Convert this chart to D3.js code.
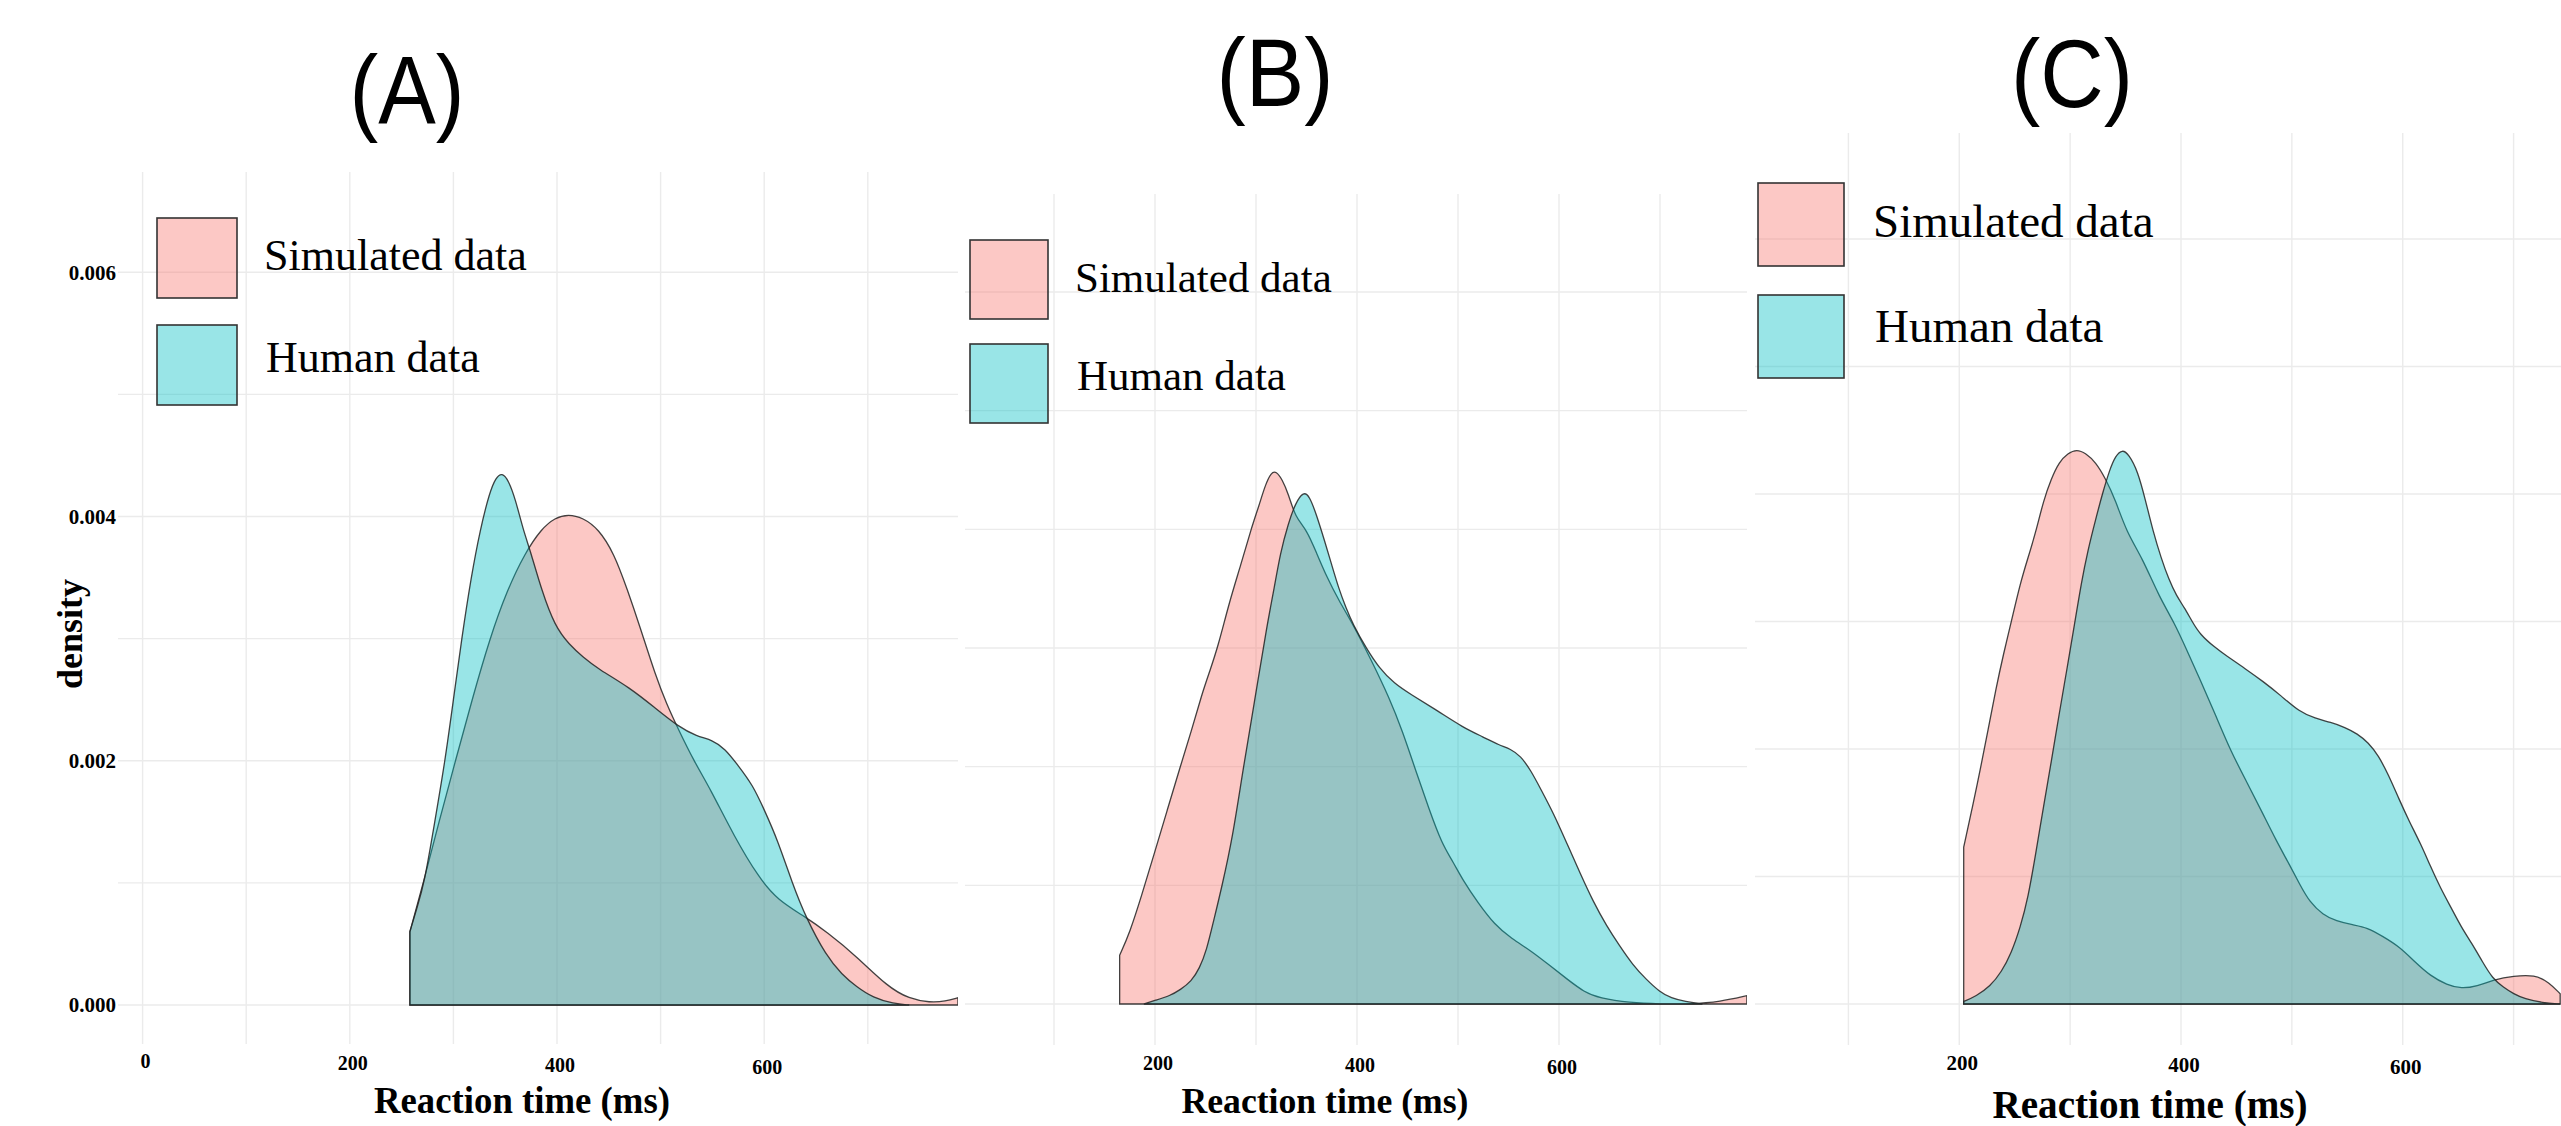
<!DOCTYPE html>
<html>
<head>
<meta charset="utf-8">
<script src="https://cdn.jsdelivr.net/npm/d3@7"></script>
<style>
  body { margin: 0; background: #fff; }
  svg { display: block; }
</style>
</head>
<body>
<div id="wrap"></div>
<script>
var W = 2561, H = 1126;

// data: [reaction time (ms), density]
var panelLabels = ["(A)", "(B)", "(C)"];
var seriesNames = ["Simulated data", "Human data"];
var rtTicksA = [0, 200, 400, 600];
var rtTicksBC = [200, 400, 600];
var densityTicks = [0, 0.002, 0.004, 0.006];

var simA = [[258,0.0006],[271,0.0010],[286,0.0015],[302,0.0020],[318,0.0025],[335,0.0030],[352,0.0034],[369,0.0037],[385,0.0039],[398,0.00399],[411,0.00402],[425,0.00399],[440,0.0039],[455,0.0037],[468,0.0034],[480,0.0031],[495,0.0027],[506,0.00246],[517,0.00226],[532,0.002],[548,0.00177],[571,0.00138],[595,0.00104],[613,0.00086],[640,0.00072],[660,0.0006],[689,0.0004],[719,0.00015],[740,0.00005],[760,0.00002],[775,0.00003],[787,0.00006]];
var humanA = [[258,0.0006],[265,0.0008],[272,0.0010],[282,0.0015],[292,0.0020],[300,0.0025],[308,0.0030],[317,0.0035],[326,0.0039],[335,0.0042],[341,0.00432],[347,0.00436],[353,0.0043],[360,0.00414],[367,0.0039],[375,0.0037],[385,0.0034],[398,0.0031],[412,0.00295],[425,0.00285],[440,0.00275],[470,0.0026],[495,0.00243],[517,0.00228],[535,0.0022],[550,0.00217],[562,0.0021],[575,0.00196],[589,0.0018],[600,0.0016],[613,0.00135],[627,0.001],[640,0.00072],[660,0.0004],[675,0.00025],[689,0.00015],[705,0.00006],[725,0.00001],[740,0]];

var simB = [[165,0.00041],[175,0.0006],[187,0.00092],[199,0.00126],[212,0.00163],[225,0.002],[236,0.0023],[246,0.0026],[254,0.0028],[262,0.0030],[274,0.0034],[285,0.0037],[295,0.0040],[303,0.0042],[309,0.00437],[315,0.00448],[320,0.00449],[326,0.00442],[332,0.0043],[339,0.0041],[350,0.0040],[360,0.0038],[370,0.0036],[382,0.0034],[396,0.0032],[414,0.0029],[432,0.00258],[445,0.0023],[458,0.00197],[471,0.00165],[484,0.00135],[495,0.0012],[505,0.00104],[520,0.00085],[536,0.00067],[553,0.00055],[572,0.00045],[590,0.00033],[608,0.00021],[625,0.0001],[640,0.00005],[670,0.00001],[700,0],[730,0],[760,0.00002],[786,0.00007]];
var humanB = [[189,0],[200,0.00003],[215,0.00007],[225,0.00012],[236,0.00019],[244,0.0003],[251,0.00045],[258,0.0007],[266,0.00098],[277,0.00141],[287,0.00197],[298,0.00252],[311,0.0032],[318,0.0035],[324,0.0038],[332,0.00405],[339,0.00422],[347,0.00432],[353,0.00428],[360,0.00412],[368,0.0039],[375,0.0037],[382,0.0035],[389,0.00334],[396,0.0032],[409,0.003],[422,0.00283],[437,0.0027],[453,0.00261],[480,0.00247],[505,0.00233],[525,0.00225],[541,0.00218],[552,0.00215],[562,0.00209],[572,0.00197],[582,0.00181],[595,0.0016],[608,0.00135],[621,0.0011],[634,0.00086],[647,0.00066],[660,0.00049],[673,0.00033],[686,0.00021],[700,0.0001],[711,0.00005],[725,0.00002],[742,0]];

var simC = [[204,0.00123],[212,0.00155],[219,0.00184],[226,0.00215],[233,0.00247],[240,0.00275],[247,0.003],[255,0.0033],[262,0.0035],[269,0.0037],[276,0.00395],[283,0.00412],[290,0.00425],[298,0.00432],[306,0.00435],[314,0.00432],[323,0.00425],[332,0.00412],[341,0.00395],[351,0.0037],[365,0.0035],[380,0.0032],[394,0.00299],[405,0.00278],[417,0.00255],[431,0.00227],[445,0.00198],[460,0.00173],[474,0.00149],[486,0.00128],[498,0.00109],[507,0.00094],[516,0.0008],[528,0.0007],[540,0.00065],[555,0.00062],[568,0.0006],[582,0.00053],[597,0.00045],[611,0.00033],[625,0.00022],[640,0.00015],[653,0.00012],[667,0.00014],[682,0.00019],[700,0.00022],[719,0.00023],[732,0.00017],[742,0.00008]];
var humanC = [[204,0.00002],[215,0.00006],[228,0.00014],[238,0.00025],[247,0.0004],[255,0.0006],[262,0.00083],[269,0.00118],[276,0.00155],[283,0.0019],[290,0.00227],[297,0.00262],[304,0.00298],[310,0.0033],[316,0.00356],[323,0.0038],[329,0.004],[336,0.0042],[341,0.0043],[347,0.00435],[353,0.00431],[361,0.00418],[368,0.00395],[375,0.0037],[382,0.0035],[389,0.00333],[396,0.0032],[403,0.00311],[410,0.003],[417,0.0029],[430,0.0028],[441,0.00273],[458,0.00263],[474,0.00253],[490,0.00242],[507,0.00229],[521,0.00224],[535,0.00221],[548,0.00217],[559,0.00212],[569,0.00205],[578,0.00195],[587,0.0018],[597,0.0016],[606,0.00143],[616,0.00126],[625,0.00108],[634,0.00091],[644,0.00075],[653,0.0006],[662,0.00048],[672,0.00033],[681,0.0002],[691,0.00013],[700,0.00008],[710,0.00004],[726,0.00001],[742,0]];

var fills = ["#F8766D", "#00BFC4"];
var serif = "'Liberation Serif', 'Times New Roman', serif";
var sans = "'Liberation Sans', Arial, sans-serif";

// layout of the three panels (pixel boxes of the composite)
var panels = [
  { label: panelLabels[0], sim: simA, human: humanA, xTicks: rtTicksA, yTicks: densityTicks,
    left: 104, right: 958, top: 172, bottom: 1044,
    xDom: [0, 700], xRange: [142.6, 867.8], yRange: [1005, 272.3],
    title: [407, 123, 115], xTitle: [522, 1113, 37, 296], tickFont: 20,
    legend: { box: [157, 218, 80, 80], gap: 107, text: [264, 270], font: 44, step: 102 } },
  { label: panelLabels[1], sim: simB, human: humanB, xTicks: rtTicksBC, yTicks: [],
    left: 965, right: 1747, top: 194, bottom: 1045,
    xDom: [100, 700], xRange: [1054, 1660], yRange: [1004, 292],
    title: [1275, 106, 117], xTitle: [1325, 1113, 36, 287], tickFont: 20,
    legend: { box: [970, 240, 78, 79], gap: 104, text: [1075, 292], font: 43, step: 98 } },
  { label: panelLabels[2], sim: simC, human: humanC, xTicks: rtTicksBC, yTicks: [],
    left: 1755, right: 2561, top: 133, bottom: 1045,
    xDom: [100, 700], xRange: [1848.4, 2513.6], yRange: [1004, 239],
    title: [2072, 107, 122], xTitle: [2150, 1118, 39, 315], tickFont: 21,
    legend: { box: [1758, 183, 86, 83], gap: 112, text: [1873, 237], font: 47, step: 105 } }
];

var svg = d3.select("#wrap").append("svg").attr("width", W).attr("height", H);
svg.append("rect").attr("width", W).attr("height", H).attr("fill", "#fff");

panels.forEach(function(p, pi) {
  var x = d3.scaleLinear().domain(p.xDom).range(p.xRange);
  var y = d3.scaleLinear().domain([0, 0.006]).range(p.yRange);
  var g = svg.append("g");

  g.append("clipPath").attr("id", "clip" + pi)
    .append("rect").attr("x", p.left).attr("y", p.top)
    .attr("width", p.right - p.left).attr("height", p.bottom - p.top);

  // grid
  var xs = d3.range(0, 801, 100).filter(function(v) { var px = x(v); return px >= p.left && px <= p.right; });
  var ys = d3.range(0, 8).map(function(k) { return k * 0.001; })
    .filter(function(v) { var py = y(v); return py >= p.top && py <= p.bottom; });
  g.selectAll(".vg").data(xs).enter().append("line")
    .attr("x1", function(d) { return x(d); }).attr("x2", function(d) { return x(d); })
    .attr("y1", p.top).attr("y2", p.bottom)
    .attr("stroke", "#ebebeb").attr("stroke-width", 1.4);
  g.selectAll(".hg").data(ys).enter().append("line")
    .attr("x1", pi === 0 ? 118 : p.left).attr("x2", p.right)
    .attr("y1", function(d) { return y(d); }).attr("y2", function(d) { return y(d); })
    .attr("stroke", "#ebebeb").attr("stroke-width", 1.4);

  // densities
  var area = d3.area()
    .x(function(d) { return x(d[0]); })
    .y0(y(0))
    .y1(function(d) { return y(d[1]); })
    .curve(d3.curveBasis);
  var plot = g.append("g").attr("clip-path", "url(#clip" + pi + ")");
  [p.sim, p.human].forEach(function(s, si) {
    plot.append("path").datum(s)
      .attr("d", area)
      .attr("fill", fills[si]).attr("fill-opacity", 0.4)
      .attr("stroke", "#222").attr("stroke-opacity", 0.85).attr("stroke-width", 1.3);
  });

  // tick labels
  g.selectAll(".xt").data(p.xTicks).enter().append("text")
    .attr("x", function(d) { return x(d) + 3; })
    .attr("y", function(d) { return 1068 + d / 100; })
    .attr("text-anchor", "middle")
    .attr("font-family", serif).attr("font-weight", "bold").attr("font-size", p.tickFont)
    .text(function(d) { return d; });
  g.selectAll(".yt").data(p.yTicks).enter().append("text")
    .attr("x", 116).attr("y", function(d) { return y(d); })
    .attr("dy", "0.35em")
    .attr("text-anchor", "end")
    .attr("font-family", serif).attr("font-weight", "bold").attr("font-size", 21)
    .text(function(d) { return d3.format(".3f")(d); });

  // axis titles
  g.append("text")
    .attr("x", p.xTitle[0]).attr("y", p.xTitle[1])
    .attr("text-anchor", "middle")
    .attr("font-family", serif).attr("font-weight", "bold").attr("font-size", p.xTitle[2])
    .attr("textLength", p.xTitle[3]).attr("lengthAdjust", "spacingAndGlyphs")
    .text("Reaction time (ms)");
  if (pi === 0) {
    g.append("text")
      .attr("transform", "translate(82,634) rotate(-90)")
      .attr("text-anchor", "middle")
      .attr("font-family", serif).attr("font-weight", "bold").attr("font-size", 36)
      .text("density");
  }

  // panel label
  g.append("text")
    .attr("x", p.title[0]).attr("y", p.title[1])
    .attr("text-anchor", "middle")
    .attr("font-family", sans).attr("font-size", 97)
    .attr("textLength", p.title[2]).attr("lengthAdjust", "spacingAndGlyphs")
    .text(p.label);

  // legend
  var L = p.legend;
  seriesNames.forEach(function(name, si) {
    g.append("rect")
      .attr("x", L.box[0]).attr("y", L.box[1] + si * L.gap)
      .attr("width", L.box[2]).attr("height", L.box[3])
      .attr("fill", fills[si]).attr("fill-opacity", 0.4)
      .attr("stroke", "#333").attr("stroke-width", 1.6);
    g.append("text")
      .attr("x", L.text[0] + si * 2).attr("y", L.text[1] + si * L.step)
      .attr("font-family", serif).attr("font-size", L.font)
      .text(name);
  });
});
</script>
</body>
</html>
